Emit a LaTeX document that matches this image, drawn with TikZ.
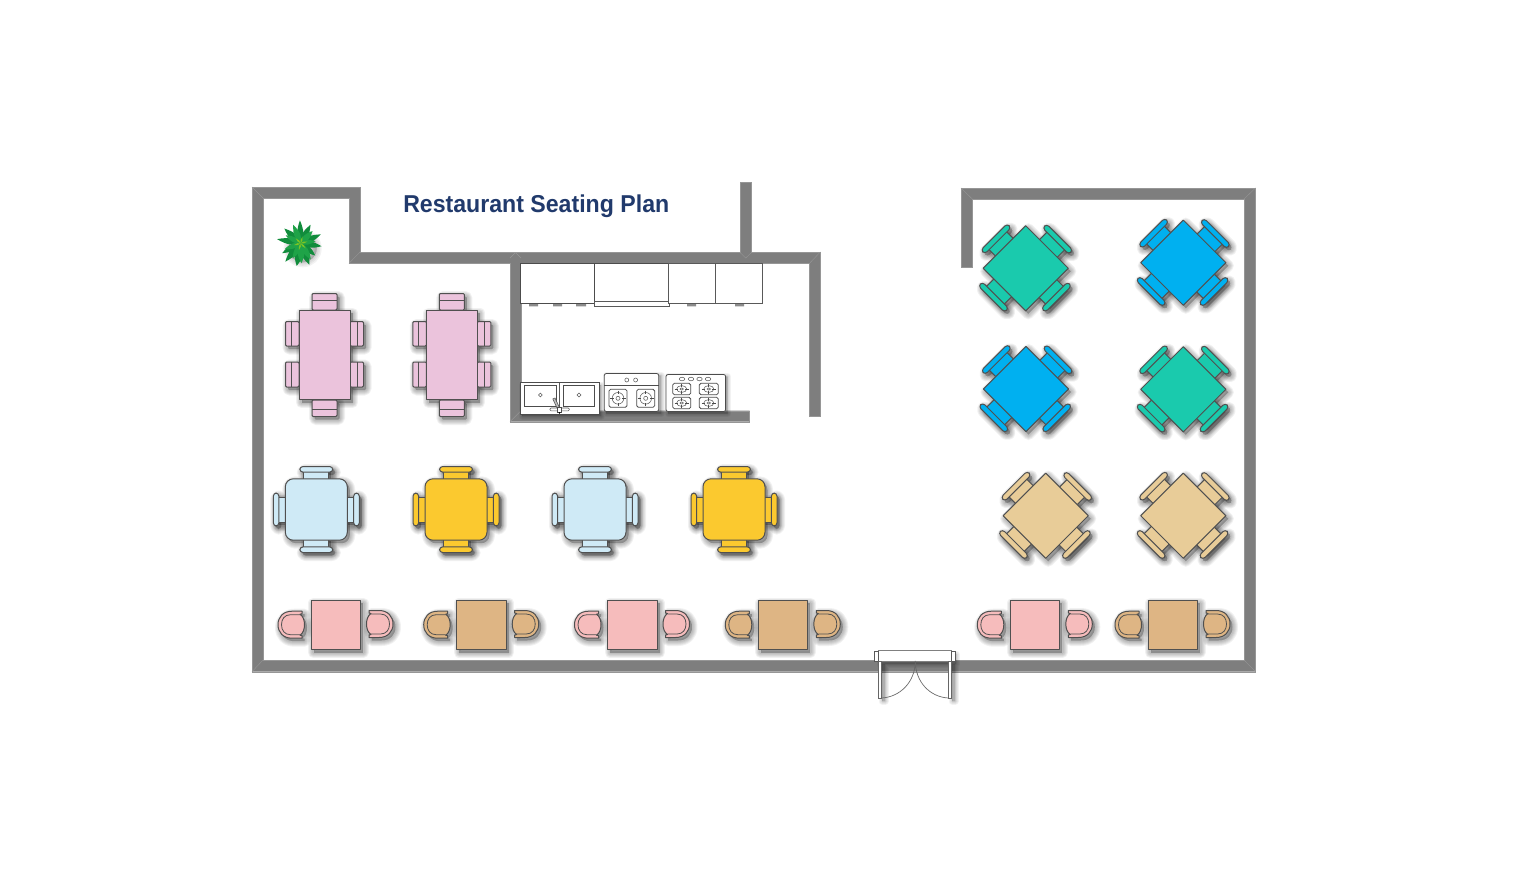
\documentclass[tikz,border=0pt]{standalone}
\usepackage{fontspec}
\usepackage{graphicx}
\setmainfont{Liberation Sans}
\definecolor{wallc}{HTML}{7E7E7E}
\definecolor{walle}{HTML}{969696}
\definecolor{edgec}{HTML}{505050}
\definecolor{titlec}{HTML}{213A6C}
\definecolor{rosec}{HTML}{EBC3DC}
\definecolor{icec}{HTML}{CFEAF6}
\definecolor{yelc}{HTML}{FBC92F}
\definecolor{pinkc}{HTML}{F6BCBC}
\definecolor{tanc}{HTML}{DEB584}
\definecolor{tealc}{HTML}{1ACAAD}
\definecolor{bluec}{HTML}{00B0F0}
\definecolor{sandc}{HTML}{E8CC98}
\definecolor{leafa}{HTML}{118C3C}
\definecolor{leafb}{HTML}{1FA348}
\definecolor{leafc}{HTML}{7CC424}
\tikzset{
  realmode/.style={part/.style={draw=edgec,fill=##1,line width=.75pt,line join=round},
                   ln/.style={draw=edgec,line width=.6pt}},
  shadowmode/.style={part/.style={draw=black,fill=black,opacity=.055,line width=\w*.75pt,line join=round},
                   ln/.style={draw=none}},
  kit/.style={draw=black!70,line width=.6pt},
  kitthin/.style={draw=black!65,line width=.4pt},
  miter/.style={draw=walle,line width=.3pt},
  softs/.style={draw=black,fill=black,opacity=.05,line width=\w*.75pt,line join=round}
}
\newcommand\withshadow[1]{%
  \foreach \w in {11,9,7,5,3}{\begin{scope}[shift={(2.5,3)},shadowmode] #1 \end{scope}}%
  \begin{scope}[realmode] #1 \end{scope}}
% rectangular six-seat table
\newcommand\sixtable[2]{\withshadow{\begin{scope}[shift={(#1,#2)}]
  \path[part=rosec,rounded corners=.8pt] (-12.5,-61.5) rectangle (12.5,-45);
  \path[part=rosec,rounded corners=.8pt] (-12.5,45) rectangle (12.5,61.5);
  \path[part=rosec,rounded corners=.8pt] (-39,-33.5) rectangle (-25.5,-9);
  \path[part=rosec,rounded corners=.8pt] (-39,7) rectangle (-25.5,32);
  \path[part=rosec,rounded corners=.8pt] (39,-33.5) rectangle (25.5,-9);
  \path[part=rosec,rounded corners=.8pt] (39,7) rectangle (25.5,32);
  \path[ln] (-12.5,-55) -- (12.5,-55) (-12.5,54.5) -- (12.5,54.5)
     (-33,-33.5) -- (-33,-9) (-33,7) -- (-33,32) (33,-33.5) -- (33,-9) (33,7) -- (33,32);
  \path[part=rosec] (-25.5,-45) rectangle (25.5,44.5);
\end{scope}}}
% one chair of the four-seat tables: origin at the middle of the back rest
\newcommand\backchair[6]{\begin{scope}[shift={(#1,#2)},rotate=#3]
  \path[part=#4] (-12.5,0) rectangle (12.5,#5);
  \path[part=#4,rounded corners=2.4pt] (-#6,-2.8) rectangle (#6,2.8);
\end{scope}}
\newcommand\roundtable[3]{\withshadow{\begin{scope}[shift={(#1,#2)}]
  \backchair{0}{-40.2}{0}{#3}{12}{16.5}
  \backchair{0}{40.2}{180}{#3}{12}{16.5}
  \backchair{-40.2}{0}{90}{#3}{12}{16.5}
  \backchair{40.2}{0}{-90}{#3}{12}{16.5}
  \path[part=#3,rounded corners=6pt] (-31,-30.7) rectangle (31,30.7);
\end{scope}}}
\newcommand\diamondtable[3]{\withshadow{\begin{scope}[shift={(#1,#2)}]
  \backchair{-29.7}{-29.5}{45}{#3}{15}{18.6}
  \backchair{32}{-29.2}{-45}{#3}{15}{18.6}
  \backchair{-32.2}{28.8}{135}{#3}{15}{18.6}
  \backchair{30.7}{28.8}{-135}{#3}{15}{18.6}
  \path[part=#3] (-42.6,0) -- (0,-42.6) -- (42.6,0) -- (0,42.6) -- cycle;
\end{scope}}}
\newcommand\armchairbody[1]{%
  \path[part=#1] (24,-13.5) -- (14,-13.5) .. controls (5,-13.5) and (0,-7.5) .. (0,0)
     .. controls (0,7.5) and (5,13.5) .. (14,13.5) -- (24,13.5) -- (24,11) -- (22,10.5)
     .. controls (28,7) and (28,-7) .. (22,-10.5) -- (24,-11) -- cycle;
  \path[ln] (22,-10) -- (12.5,-10) .. controls (6.5,-10) and (3.5,-5.5) .. (3.5,0)
     .. controls (3.5,5.5) and (6.5,10) .. (12.5,10) -- (22,10);}
\newcommand\twotable[2]{\withshadow{%
  \begin{scope}[shift={(#1-33,624.7)}]\armchairbody{#2}\end{scope}
  \begin{scope}[shift={(#1+82,624)},xscale=-1]\armchairbody{#2}\end{scope}
  \path[part=#2] (#1,600) rectangle (#1+49.5,649.5);}}
\newcommand\burnerr[6]{% x1 y1 x2 y2 rx ry
  \path[kit,fill=white,rounded corners=1.2pt] (#1,#2) rectangle (#3,#4);
  \path[kitthin] ({(#1+#3)/2},{(#2+#4)/2}) ellipse ({#5} and {#6});
  \path[kitthin] ({(#1+#3)/2},{(#2+#4)/2}) ellipse ({#5*.35} and {#6*.35});
  \path[kit] ({(#1+#3)/2-#5-2},{(#2+#4)/2}) -- ({(#1+#3)/2-#5+1.5},{(#2+#4)/2})
     ({(#1+#3)/2+#5+2},{(#2+#4)/2}) -- ({(#1+#3)/2+#5-1.5},{(#2+#4)/2})
     ({(#1+#3)/2},{(#2+#4)/2-#6-2}) -- ({(#1+#3)/2},{(#2+#4)/2-#6+1.5})
     ({(#1+#3)/2},{(#2+#4)/2+#6+2}) -- ({(#1+#3)/2},{(#2+#4)/2+#6-1.5});}
\newcommand\leaf[4]{\fill[#4,rotate=#1] (0,0) .. controls (#2*.3,-#3) and (#2*.55,-#3) .. (#2,0)
       .. controls (#2*.55,#3) and (#2*.3,#3) .. (0,0);}
\begin{document}
\begin{tikzpicture}[x=.75pt,y=-.75pt]
\useasboundingbox (0,0) rectangle (1516,872);
\fill[white] (0,0) rectangle (1516,872);
% walls
\path[fill=wallc,draw=walle,line width=.3pt,line join=miter]
  (252,187) -- (360,187) -- (360,252) -- (740,252) -- (740,182.5) -- (751.5,182.5) -- (751.5,252)
  -- (820.3,252) -- (820.3,416) -- (809.5,416) -- (809.5,263.3) -- (521,263.3) -- (521,410.7)
  -- (749.5,410.7) -- (749.5,421.7) -- (510,421.7) -- (510,263.3) -- (349,263.3) -- (349,198)
  -- (263,198) -- (263,660) -- (1244,660) -- (1244,199) -- (972.3,199) -- (972.3,267.5)
  -- (961,267.5) -- (961,188) -- (1255.5,188) -- (1255.5,671.7) -- (252,671.7) -- cycle;
\path[miter] (252,187) -- (263,198) (252,671.7) -- (263,660) (349,263.3) -- (360,252)
  (961,188) -- (972.3,199) (1255.5,188) -- (1244,199) (1255.5,671.7) -- (1244,660)
  (820.3,252) -- (809.5,263.3) (510,421.7) -- (521,410.7)
  (510,258) -- (515.5,252.5) -- (521,258) (740,252.5) -- (745.7,258) -- (751.5,252.5);
% title
\node[text=titlec,inner sep=0pt,anchor=base west] (title) at (403,212.5)
  {\resizebox{199.5pt}{\height}{\fontsize{18.3pt}{20pt}\selectfont\bfseries Restaurant Seating Plan}};
% plant
\begin{scope}[shift={(300.7,243.3)}]
  \foreach \w in {10,7,4,1}{\path[softs] (2,5) circle (14);}
  \foreach \a/\l/\wd in {92/23/4,62/21/4,24/22/4,-8/21/4,-40/19/4,-68/23/5,-100/23/5.5,-130/24/4.5,-152/21/4,170/24/4,138/22/4.5}
    {\leaf{\a}{\l}{\wd}{leafa}}
  \foreach \a/\l/\wd in {112/20/4,46/17/4,8/15/3,-58/19/4,-88/20/4.5,-118/17/3.5,-160/17/3.5,152/17/3.5}
    {\leaf{\a}{\l}{\wd}{leafb}}
  \foreach \a in {15,75,...,315}
    {\leaf{\a}{7}{1.2}{leafc}}
\end{scope}
% tables
\sixtable{324.5}{355}
\sixtable{451.8}{355}
\roundtable{316.3}{509.5}{icec}
\roundtable{456}{509.5}{yelc}
\roundtable{595}{509.5}{icec}
\roundtable{734}{509.5}{yelc}
\twotable{311}{pinkc}
\twotable{456.7}{tanc}
\twotable{607.5}{pinkc}
\twotable{758.3}{tanc}
\twotable{1010.3}{pinkc}
\twotable{1148}{tanc}
\diamondtable{1025.7}{268.3}{tealc}
\diamondtable{1183.3}{262.7}{bluec}
\diamondtable{1026}{389}{bluec}
\diamondtable{1183.3}{389.3}{tealc}
\diamondtable{1045.7}{515.7}{sandc}
\diamondtable{1183.3}{515.7}{sandc}
% kitchen: wall cabinets
\path[fill=black!45] (529,303) rectangle (538,306.3) (553,303) rectangle (562,306.3) (576,303) rectangle (586,306.3)
  (687,303) rectangle (696,306.3) (735,303) rectangle (744,306.3);
\path[kit,fill=white] (520,263.5) rectangle (594.3,303.3);
\path[kit,fill=white] (594.3,263.5) rectangle (668.3,301);
\path[kitthin,fill=white] (594.3,301) rectangle (669.5,306);
\path[kitthin,fill=white] (668.3,263.5) rectangle (715.3,303);
\path[kitthin,fill=white] (715.3,263.5) rectangle (762.5,303);
% kitchen: sink
\foreach \w in {7,5,3,1}{\path[softs]
  (522,385) rectangle (601,416) (606,375.5) rectangle (661,413.5) (668,376.5) rectangle (727.6,413.5);}
\path[kit,fill=white] (520,382.7) rectangle (599,414);
\path[kitthin] (559.5,382.7) -- (559.5,407);
\path[kit,fill=white] (524.3,385.3) rectangle (556,406.7);
\path[kit,fill=white] (563,385.3) rectangle (594.3,406.7);
\path[kitthin,fill=white] (540.3,395) circle (1.9) (579,395) circle (1.9);
\path[draw=black!70,fill=black!25,line width=.4pt,rotate around={25:(556,403)}] (554.8,398) rectangle (557.2,408);
\path[kitthin,fill=white,rounded corners=.8pt] (550,408) rectangle (569.3,410.8);
\path[kit,fill=white] (557.6,407.2) rectangle (561.4,412);
\path[fill=black] (558.5,412) -- (560.5,412) -- (559.5,414) -- cycle;
% kitchen: two-burner stove
\path[kit,fill=white,rounded corners=1.5pt] (604.3,373.5) rectangle (658.7,411.5);
\path[kit] (604.3,385.7) -- (658.7,385.7);
\path[kitthin] (626.8,380) circle (2) (635.6,380) circle (2);
\burnerr{609}{389.3}{627}{407.3}{5.8}{5.8}
\burnerr{636.7}{389.3}{654.7}{407.3}{5.8}{5.8}
% kitchen: four-burner stove
\path[kit,fill=white,rounded corners=1.5pt] (666,374.5) rectangle (725.6,411.5);
\path[kitthin] (682,379) ellipse (2.7 and 1.8) (691,379) ellipse (2.7 and 1.8)
  (699.5,379) ellipse (2.7 and 1.8) (708,379) ellipse (2.7 and 1.8);
\burnerr{672.7}{383.3}{690.7}{394.7}{5}{3.4}
\burnerr{699.3}{383.3}{718.3}{394.7}{5}{3.4}
\burnerr{672.7}{397.3}{690.7}{408.7}{5}{3.4}
\burnerr{699.3}{397.3}{718.3}{408.7}{5}{3.4}
% door
\foreach \w in {7,5,3,1}{\path[softs]
  (882,664) rectangle (885,701) (952,664) rectangle (955,701) (880,654) rectangle (956,664);}
\path[draw=black!50,line width=.5pt,fill=white] (878.3,650.7) rectangle (951.7,661);
\path[kitthin,fill=white] (874.7,651) rectangle (878.3,661.5) (951.7,651) rectangle (955.5,661.5);
\path[draw=black!60,line width=.5pt,fill=white] (878.5,661) rectangle (881.7,698.5);
\path[draw=black!60,line width=.5pt,fill=white] (948.3,661) rectangle (951.5,698.5);
\path[draw=black!60,line width=.5pt] (881.7,698) .. controls (900,697) and (915.3,682) .. (915.3,661)
  .. controls (915.3,682) and (930,697) .. (948.3,698);
\end{tikzpicture}
\end{document}
